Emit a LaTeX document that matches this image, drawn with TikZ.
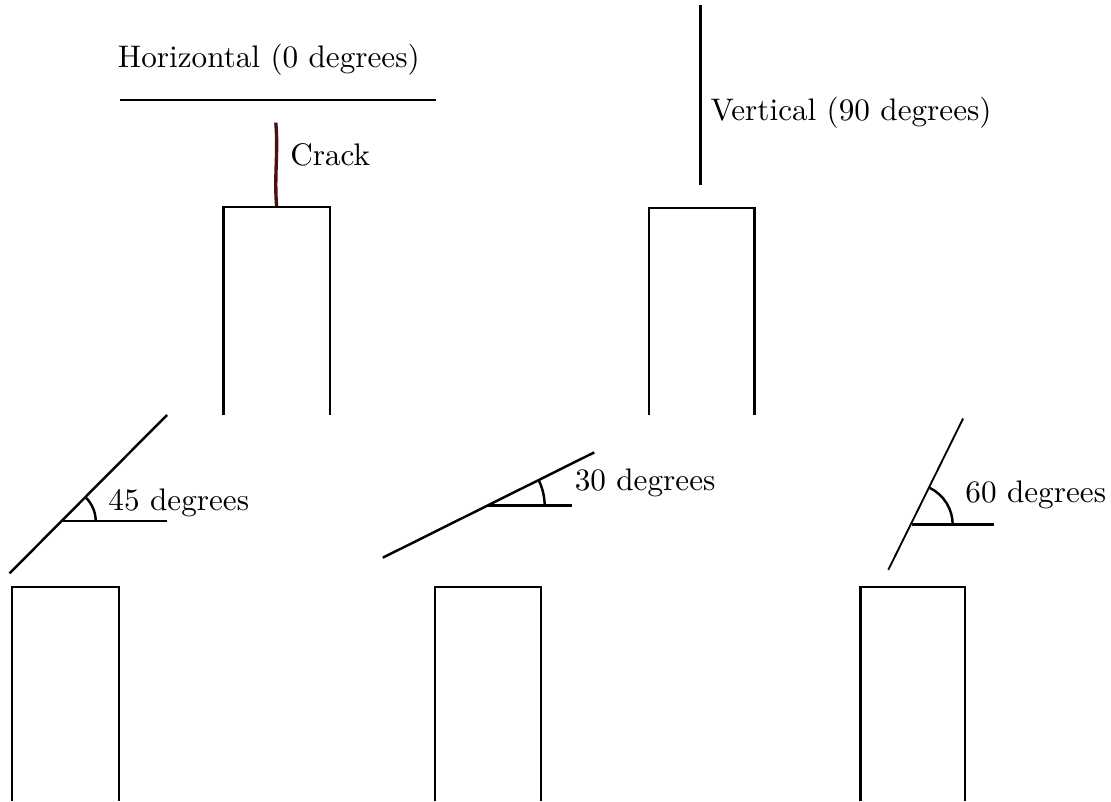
\documentclass[tikz,border=0pt]{standalone}
\usepackage{tikz}
\usetikzlibrary{positioning, calc}
\definecolor{crackred}{RGB}{80,15,15}
\tikzset{
  specimen/.style={thick},
  refline/.style={thick},
  thinline/.style={semithick},
  anglearc/.style={thick},
  crackline/.style={draw=crackred, line width=1.1pt},
  lbl/.style={font=\fontsize{10.2pt}{12pt}\selectfont, inner sep=0pt},
}

\begin{document}
\begin{tikzpicture}
    \useasboundingbox (0,0) rectangle (12.77,9.21);

    % top row: horizontal and vertical
    \draw[refline] (1.38,8.06) -- (5.01,8.06);
    \node[lbl] (hlabel) at (3.09,8.52) {Horizontal (0 degrees)};
    \draw[crackline] (3.17,7.80) .. controls (3.20,7.45) and (3.15,7.20) .. (3.18,6.83);
    \node[lbl, anchor=west] (cracklabel) at (3.33,7.43) {Crack};
    \draw[specimen] (2.57,4.44) |- (3.79,6.83) -- (3.79,4.44);

    \draw[refline] (8.05,9.15) -- (8.05,7.08);
    \node[lbl, anchor=west] (vlabel) at (8.16,7.92) {Vertical (90 degrees)};
    \draw[specimen] (7.46,4.44) |- (8.67,6.82) -- (8.67,4.44);

    % bottom row: inclined cracks
    \coordinate (c45) at (0.72,3.22);
    \draw[refline] (0.11,2.62) -- (1.92,4.44);
    \draw[refline] (c45) -- (1.92,3.22);
    \draw[anglearc] ($(c45)+(0.38,0)$) arc[start angle=0, end angle=45, radius=0.38];
    \node[lbl, anchor=west] (l45) at (1.24,3.43) {45 degrees};
    \draw[specimen] (0.14,0) |- (1.37,2.46) -- (1.37,0);

    \coordinate (c30) at (5.61,3.40);
    \draw[refline] (4.40,2.80) -- (6.83,4.01);
    \draw[refline] (c30) -- (6.57,3.40);
    \draw[anglearc] ($(c30)+(0.65,0)$) arc[start angle=0, end angle=26.5, radius=0.65];
    \node[lbl, anchor=west] (l30) at (6.60,3.66) {30 degrees};
    \draw[specimen] (5.00,0) |- (6.22,2.46) -- (6.22,0);

    \coordinate (c60) at (10.48,3.18);
    \draw[thinline] (10.21,2.66) -- (11.07,4.40);
    \draw[refline, line width=1.2pt] (c60) -- (11.43,3.18);
    \draw[anglearc] ($(c60)+(0.47,0)$) arc[start angle=0, end angle=63.7, radius=0.47];
    \node[lbl, anchor=west] (l60) at (11.09,3.52) {60 degrees};
    \draw[specimen] (9.89,0) |- (11.09,2.46) -- (11.09,0);
\end{tikzpicture}
\end{document}
